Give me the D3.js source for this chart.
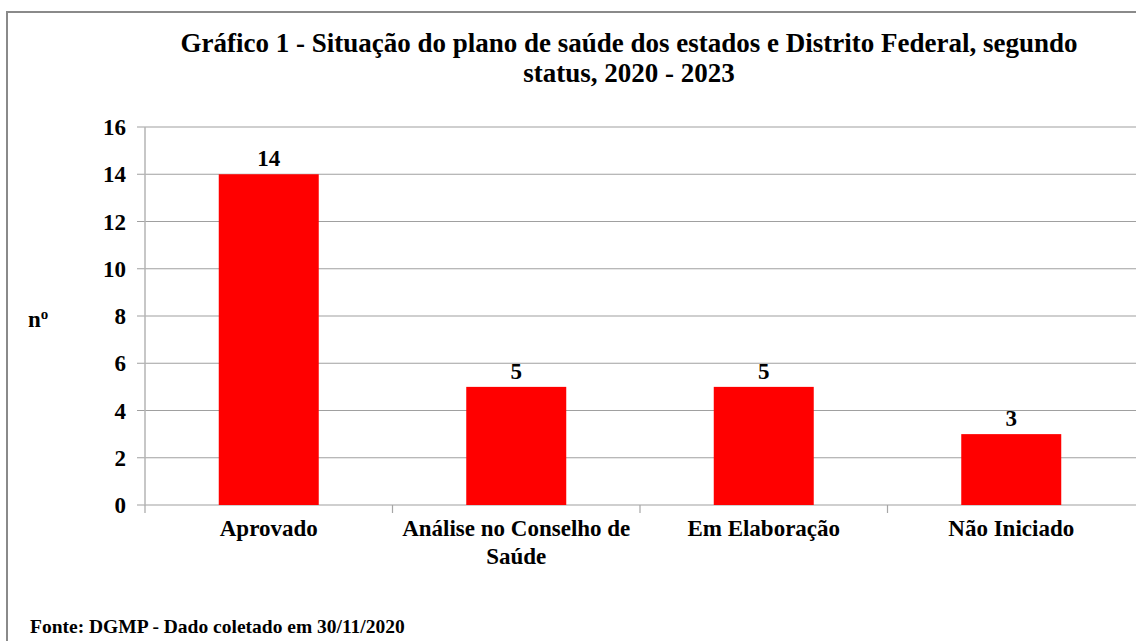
<!DOCTYPE html>
<html>
<head>
<meta charset="utf-8">
<script src="https://cdn.jsdelivr.net/npm/d3@7.9.0/dist/d3.min.js"></script>
<style>
  body { margin: 0; background: #fff; }
  svg { display: block; }
  text { font-family: "Liberation Serif", "Times New Roman", serif; font-weight: bold; fill: #000; }
</style>
</head>
<body>
<svg id="chart" width="1136" height="641"></svg>
<script>
// data
const categories = ['Aprovado', 'Análise no Conselho de Saúde', 'Em Elaboração', 'Não Iniciado'];
const values = [14, 5, 5, 3];
const yTicks = [0, 2, 4, 6, 8, 10, 12, 14, 16];
const titleLines = ['Gráfico 1 - Situação do plano de saúde dos estados e Distrito Federal, segundo', 'status, 2020 - 2023'];
const sourceText = 'Fonte: DGMP - Dado coletado em 30/11/2020';

const svg = d3.select('#chart');
const plot = { left: 145, right: 1135, top: 127, bottom: 505 };

// outer frame (runs off the right and bottom)
svg.append('rect')
  .attr('x', 7).attr('y', 12)
  .attr('width', 1160).attr('height', 660)
  .attr('fill', 'none')
  .attr('stroke', '#8a8a8a')
  .attr('stroke-width', 2);

// title
svg.selectAll('.title')
  .data(titleLines)
  .join('text')
  .attr('class', 'title')
  .attr('x', 629)
  .attr('y', (d, i) => 52 + i * 30)
  .attr('text-anchor', 'middle')
  .style('font-size', '27px')
  .text(d => d);

let x = d3.scaleBand()
  .domain(categories)
  .range([plot.left, plot.right])
  .paddingInner(0.596)
  .paddingOuter(0.298);

let y = d3.scaleLinear()
  .domain([0, 16])
  .range([plot.bottom, plot.top]);

// gridlines
svg.append('g')
  .selectAll('line')
  .data(yTicks)
  .join('line')
  .attr('x1', plot.left - 8)
  .attr('x2', plot.right + 10)
  .attr('y1', d => y(d))
  .attr('y2', d => y(d))
  .attr('stroke', '#a0a0a0')
  .attr('stroke-width', 1.2);

// y axis line
svg.append('line')
  .attr('x1', plot.left).attr('x2', plot.left)
  .attr('y1', plot.top).attr('y2', plot.bottom)
  .attr('stroke', '#b4b4b4')
  .attr('stroke-width', 1.5);

// x tick marks at category boundaries
let step = x.step();
let bounds = categories.map(c => x(c) - x.paddingOuter() * step);
svg.append('g')
  .selectAll('line')
  .data(bounds)
  .join('line')
  .attr('x1', d => d).attr('x2', d => d)
  .attr('y1', plot.bottom).attr('y2', plot.bottom + 8)
  .attr('stroke', '#a6a6a6')
  .attr('stroke-width', 1.2);

// y tick labels
svg.append('g')
  .selectAll('text')
  .data(yTicks)
  .join('text')
  .attr('x', plot.left - 19)
  .attr('y', d => y(d))
  .attr('dy', '0.35em')
  .attr('text-anchor', 'end')
  .style('font-size', '23px')
  .text(d => d);

// bars
svg.append('g')
  .selectAll('rect')
  .data(values)
  .join('rect')
  .attr('x', (d, i) => x(categories[i]))
  .attr('y', d => y(d))
  .attr('width', x.bandwidth())
  .attr('height', d => y(0) - y(d))
  .attr('fill', '#ff0000');

// value labels
svg.append('g')
  .selectAll('text')
  .data(values)
  .join('text')
  .attr('x', (d, i) => x(categories[i]) + x.bandwidth() / 2)
  .attr('y', d => y(d) - 8)
  .attr('text-anchor', 'middle')
  .style('font-size', '23px')
  .text(d => d);

// category labels, wrapped
let catLabels = svg.append('g')
  .selectAll('text')
  .data(categories)
  .join('text')
  .attr('x', d => x(d) + x.bandwidth() / 2)
  .attr('y', 536)
  .attr('text-anchor', 'middle')
  .style('font-size', '23px');

catLabels.each(function (d) {
  let el = d3.select(this);
  let words = d.split(' ');
  let line = [];
  let tspan = el.append('tspan').attr('x', el.attr('x')).attr('dy', 0);
  words.forEach(w => {
    line.push(w);
    tspan.text(line.join(' '));
    if (tspan.node().getComputedTextLength() > 240 && line.length > 1) {
      line.pop();
      tspan.text(line.join(' '));
      line = [w];
      tspan = el.append('tspan').attr('x', el.attr('x')).attr('dy', 28).text(w);
    }
  });
});

// y axis title "nº"
let yTitle = svg.append('text')
  .attr('x', 28)
  .attr('y', 327)
  .style('font-size', '23px');
yTitle.append('tspan').text('n');
yTitle.append('tspan').attr('dy', -8).style('font-size', '15px').text('o');

// source
svg.append('text')
  .attr('x', 30)
  .attr('y', 633)
  .style('font-size', '19.5px')
  .text(sourceText);
</script>
</body>
</html>
